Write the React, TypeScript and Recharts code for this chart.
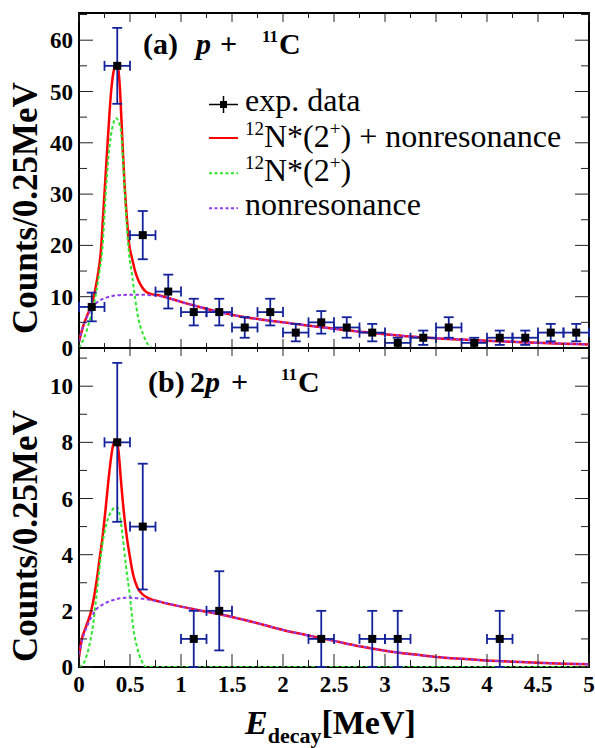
import React from "react";
import {
  ComposedChart,
  Line,
  Scatter,
  ErrorBar,
  XAxis,
  YAxis,
  ReferenceArea,
} from "recharts";

// ---- data ----

const X_TICKS = [0, 0.25, 0.5, 0.75, 1, 1.25, 1.5, 1.75, 2, 2.25, 2.5, 2.75, 3, 3.25, 3.5, 3.75, 4, 4.25, 4.5, 4.75, 5];
const Y_TICKS_A = [0, 5, 10, 15, 20, 25, 30, 35, 40, 45, 50, 55, 60, 65];
const Y_TICKS_B = [0, 1, 2, 3, 4, 5, 6, 7, 8, 9, 10, 11];

// (a) p + 11C
const BINS_A = [0.125, 0.375, 0.625, 0.875, 1.125, 1.375, 1.625, 1.875, 2.125, 2.375, 2.625, 2.875, 3.125, 3.375, 3.625, 3.875, 4.125, 4.375, 4.625, 4.875];
const COUNTS_A = [8, 55, 22, 11, 7, 7, 4, 7, 3, 5, 4, 3, 1, 2, 4, 1, 2, 2, 3, 3];
const ERR_A = [2.8, 7.4, 4.7, 3.3, 2.6, 2.6, 2.0, 2.6, 1.7, 2.2, 2.0, 1.7, 1.0, 1.4, 2.0, 1.0, 1.4, 1.4, 1.7, 1.7];

// (b) 2p + 11C
const BINS_B = [0.375, 0.625, 1.125, 1.375, 2.375, 2.875, 3.125, 4.125];
const COUNTS_B = [8, 5, 1, 2, 1, 1, 1, 1];
const ERR_B = [2.83, 2.24, 1.0, 1.41, 1.0, 1.0, 1.0, 1.0];

const BIN_HALF = 0.125;

const RED_A: [number, number][] = [
  [0, 1.2], [0.04, 4.2], [0.09, 6.8], [0.125, 8.4], [0.155, 11], [0.185, 14.3], [0.215, 19],
  [0.24, 27], [0.265, 35], [0.29, 43], [0.315, 50], [0.34, 54], [0.36, 55.2], [0.38, 54.8],
  [0.4, 51], [0.415, 45], [0.43, 38.5], [0.445, 32.5], [0.465, 26.5], [0.49, 20.5], [0.52, 17.5],
  [0.55, 15], [0.58, 13.3], [0.62, 11.8], [0.66, 10.9], [0.71, 10.5], [0.8, 10.2], [0.9, 9.6],
  [1.0, 9.0], [1.2, 7.9], [1.4, 6.9], [1.6, 6.1], [1.8, 5.5], [2.0, 5.0], [2.2, 4.5], [2.4, 4.0],
  [2.6, 3.5], [2.8, 3.1], [3.0, 2.7], [3.25, 2.25], [3.5, 1.9], [3.75, 1.65], [4.0, 1.4],
  [4.25, 1.2], [4.5, 1.0], [4.75, 0.85], [5.0, 0.7],
];
const GREEN_A: [number, number][] = [
  [0, 0], [0.05, 2.0], [0.1, 5.0], [0.14, 8], [0.17, 11], [0.2, 14.8], [0.23, 19.5], [0.26, 29.5],
  [0.29, 37.5], [0.31, 41], [0.34, 44], [0.365, 44.8], [0.39, 44], [0.41, 42.5], [0.43, 37],
  [0.45, 30], [0.47, 23.5], [0.49, 18.5], [0.52, 14.3], [0.55, 9.7], [0.58, 5.9], [0.63, 2.6],
  [0.68, 0.6], [0.73, 0], [5, 0],
];
const PURPLE_A: [number, number][] = [
  [0, 1.2], [0.03, 3.6], [0.06, 5.2], [0.1, 6.9], [0.125, 7.8], [0.19, 9.1], [0.28, 9.9],
  [0.4, 10.3], [0.55, 10.4], [0.7, 10.3], [0.8, 10.1], [0.9, 9.6], [1.0, 9.0], [1.2, 7.9],
  [1.4, 6.9], [1.6, 6.1], [1.8, 5.5], [2.0, 5.0], [2.2, 4.5], [2.4, 4.0], [2.6, 3.5], [2.8, 3.1],
  [3.0, 2.7], [3.25, 2.25], [3.5, 1.9], [3.75, 1.65], [4.0, 1.4], [4.25, 1.2], [4.5, 1.0],
  [4.75, 0.85], [5.0, 0.7],
];

const RED_B: [number, number][] = [
  [0, 0.35], [0.025, 0.95], [0.07, 1.45], [0.12, 2.0], [0.17, 3.0], [0.2, 3.8], [0.23, 4.6],
  [0.26, 5.6], [0.29, 6.7], [0.32, 7.6], [0.35, 8.1], [0.37, 8.1], [0.39, 7.6], [0.41, 6.7],
  [0.44, 5.5], [0.47, 4.6], [0.5, 3.9], [0.53, 3.3], [0.57, 2.85], [0.62, 2.6], [0.68, 2.45],
  [0.8, 2.32], [1.0, 2.15], [1.25, 1.97], [1.5, 1.78], [1.75, 1.56], [2.0, 1.32], [2.25, 1.12],
  [2.5, 0.93], [2.75, 0.74], [3.0, 0.58], [3.25, 0.46], [3.5, 0.36], [3.75, 0.29], [4.0, 0.23],
  [4.25, 0.19], [4.5, 0.15], [4.75, 0.12], [5.0, 0.1],
];
const GREEN_B: [number, number][] = [
  [0, 0], [0.04, 0.1], [0.09, 0.6], [0.14, 1.55], [0.17, 2.5], [0.2, 3.5], [0.235, 4.5],
  [0.27, 5.1], [0.31, 5.5], [0.34, 5.65], [0.37, 5.7], [0.4, 5.4], [0.43, 4.6], [0.46, 3.6],
  [0.5, 2.5], [0.53, 1.45], [0.57, 0.7], [0.61, 0.25], [0.66, 0], [5, 0],
];
const PURPLE_B: [number, number][] = [
  [0, 0.45], [0.04, 1.07], [0.09, 1.54], [0.15, 1.96], [0.25, 2.26], [0.35, 2.4], [0.48, 2.47],
  [0.64, 2.42], [0.8, 2.32], [1.0, 2.15], [1.25, 1.97], [1.5, 1.78], [1.75, 1.56], [2.0, 1.32],
  [2.25, 1.12], [2.5, 0.93], [2.75, 0.74], [3.0, 0.58], [3.25, 0.46], [3.5, 0.36], [3.75, 0.29],
  [4.0, 0.23], [4.25, 0.19], [4.5, 0.15], [4.75, 0.12], [5.0, 0.1],
];

// ---- styling / layout ----

const FONT = '"Liberation Serif", "Times New Roman", serif';
const RED = "#ff0000";
const GREEN = "#2ee62e";
const PURPLE = "#8f3cf0";
const BLUE = "#14239b";

const WIDTH = 595;
const PLOT_LEFT = 79;
const PLOT_RIGHT = 589;

const YMAX_A = 65.3;
const YMAX_B = 11.36;

const toPoints = (bins: number[], counts: number[], errs: number[]) =>
  bins.map((x, i) => ({ x, y: counts[i], ey: errs[i], ex: BIN_HALF }));
const toLine = (pts: [number, number][]) => pts.map(([x, y]) => ({ x, y }));

const isMajor = (v: number, step: number) => Math.abs(v / step - Math.round(v / step)) < 1e-6;

const Square = (p: any) => <rect x={p.cx - 4} y={p.cy - 4} width={8} height={8} fill="#000" />;

function makeYTick(majorStep: number) {
  return (p: any) => {
    const v = p.payload.value;
    const major = isMajor(v, majorStep);
    const len = major ? 14 : 8;
    return (
      <g>
        <line x1={PLOT_LEFT} x2={PLOT_LEFT + len} y1={p.y} y2={p.y} stroke="#222" strokeWidth={1} />
        <line x1={PLOT_RIGHT - len} x2={PLOT_RIGHT} y1={p.y} y2={p.y} stroke="#222" strokeWidth={1} />
        {major && (
          <text x={PLOT_LEFT - 6} y={p.y} dy="0.35em" textAnchor="end" fontFamily={FONT} fontWeight="bold" fontSize={23} fill="#000">
            {v}
          </text>
        )}
      </g>
    );
  };
}

function makeXTick(top: number, bottom: number, lenBottom: number[], lenTop: number[], labels: boolean) {
  return (p: any) => {
    const v = p.payload.value;
    const major = isMajor(v, 0.5);
    const lb = major ? lenBottom[0] : lenBottom[1];
    const lt = major ? lenTop[0] : lenTop[1];
    return (
      <g>
        <line x1={p.x} x2={p.x} y1={bottom} y2={bottom - lb} stroke="#222" strokeWidth={1} />
        <line x1={p.x} x2={p.x} y1={top} y2={top + lt} stroke="#222" strokeWidth={1} />
        {labels && major && (
          <text x={p.x} y={bottom + 17} dy="0.35em" textAnchor="middle" fontFamily={FONT} fontWeight="bold" fontSize={23} fill="#000">
            {v}
          </text>
        )}
      </g>
    );
  };
}

function Panel(props: {
  points: { x: number; y: number; ex: number; ey: number }[];
  red: [number, number][];
  green: [number, number][];
  purple: [number, number][];
  ymax: number;
  yTicks: number[];
  yMajor: number;
  height: number;
  marginTop: number;
  xAxisHeight: number;
  xLenBottom: number[];
  xLenTop: number[];
  labels: boolean;
}) {
  const plotTop = props.marginTop;
  const plotBottom = props.height - props.xAxisHeight;
  return (
    <ComposedChart
      width={WIDTH}
      height={props.height}
      margin={{ top: props.marginTop, right: WIDTH - PLOT_RIGHT, left: 0, bottom: 0 }}
    >
      <XAxis
        type="number"
        dataKey="x"
        domain={[0, 5]}
        ticks={X_TICKS}
        interval={0}
        height={props.xAxisHeight}
        axisLine={false}
        tickLine={false}
        tickSize={0}
        tick={makeXTick(plotTop, plotBottom, props.xLenBottom, props.xLenTop, props.labels)}
        allowDataOverflow
      />
      <YAxis
        type="number"
        dataKey="y"
        domain={[0, props.ymax]}
        ticks={props.yTicks}
        interval={0}
        width={PLOT_LEFT}
        axisLine={false}
        tickLine={false}
        tickSize={0}
        tick={makeYTick(props.yMajor)}
        allowDataOverflow
      />
      <Line data={toLine(props.red)} dataKey="y" type="monotone" stroke={RED} strokeWidth={2.5} dot={false} isAnimationActive={false} />
      <Line data={toLine(props.green)} dataKey="y" type="monotone" stroke={GREEN} strokeWidth={2} strokeDasharray="3.5 2.5" dot={false} isAnimationActive={false} />
      <Line data={toLine(props.purple)} dataKey="y" type="monotone" stroke={PURPLE} strokeWidth={2} strokeDasharray="3.5 2.5" dot={false} isAnimationActive={false} />
      <Scatter data={props.points} dataKey="y" shape={Square} isAnimationActive={false}>
        <ErrorBar dataKey="ey" direction="y" width={5} stroke={BLUE} strokeWidth={1.8} />
        <ErrorBar dataKey="ex" direction="x" width={5} stroke={BLUE} strokeWidth={1.8} />
      </Scatter>
      <ReferenceArea x1={0} x2={5} y1={0} y2={props.ymax} fill="none" fillOpacity={0} stroke="#000" strokeWidth={2} />
    </ComposedChart>
  );
}

function Overlay() {
  const bold = { fontFamily: FONT, fontWeight: "bold" as const, fill: "#000" };
  const reg = { fontFamily: FONT, fill: "#000" };
  return (
    <svg width={WIDTH} height={748} style={{ position: "absolute", left: 0, top: 0, pointerEvents: "none" }}>
      {/* y titles */}
      <text transform="translate(37,208) rotate(-90)" textAnchor="middle" fontSize={35} {...bold}>
        Counts/0.25MeV
      </text>
      <text transform="translate(37,536) rotate(-90)" textAnchor="middle" fontSize={35} {...bold}>
        Counts/0.25MeV
      </text>
      {/* x title */}
      <text y={734} {...bold}>
        <tspan x={245} fontSize={34} fontStyle="italic">E</tspan>
        <tspan fontSize={22} dy={9}>decay</tspan>
        <tspan fontSize={34} dy={-9}>[MeV]</tspan>
      </text>
      {/* panel labels */}
      <text y={54} fontSize={30} {...bold}>
        <tspan x={143}>(a)</tspan>
        <tspan x={196} fontStyle="italic">p</tspan>
        <tspan x={220}>+</tspan>
        <tspan x={262} fontSize={17} dy={-12}>11</tspan>
        <tspan x={279} dy={12}>C</tspan>
      </text>
      <text y={392} fontSize={30} {...bold}>
        <tspan x={148}>(b)</tspan>
        <tspan x={190}>2</tspan>
        <tspan fontStyle="italic">p</tspan>
        <tspan x={231}>+</tspan>
        <tspan x={281} fontSize={17} dy={-12}>11</tspan>
        <tspan x={298} dy={12}>C</tspan>
      </text>
      {/* legend */}
      <line x1={209} x2={238} y1={104.5} y2={104.5} stroke="#000" strokeWidth={1.5} />
      <line x1={223.5} x2={223.5} y1={96} y2={113} stroke="#000" strokeWidth={1.5} />
      <rect x={220} y={101} width={7} height={7} fill="#000" />
      <text x={245} y={111} fontSize={32} {...reg}>exp. data</text>

      <line x1={209} x2={238} y1={138} y2={138} stroke={RED} strokeWidth={2} />
      <text x={245} y={146.5} fontSize={32} {...reg}>
        <tspan fontSize={19} dy={-12}>12</tspan>
        <tspan dy={12}>N*(2</tspan>
        <tspan fontSize={19} dy={-12}>+</tspan>
        <tspan dy={12}>) + nonresonance</tspan>
      </text>

      <line x1={209} x2={238} y1={173.3} y2={173.3} stroke={GREEN} strokeWidth={2} strokeDasharray="3 2.5" />
      <text x={245} y={180.5} fontSize={32} {...reg}>
        <tspan fontSize={19} dy={-12}>12</tspan>
        <tspan dy={12}>N*(2</tspan>
        <tspan fontSize={19} dy={-12}>+</tspan>
        <tspan dy={12}>)</tspan>
      </text>

      <line x1={209} x2={238} y1={208.3} y2={208.3} stroke={PURPLE} strokeWidth={2} strokeDasharray="3 2.5" />
      <text x={245} y={215} fontSize={32} {...reg}>nonresonance</text>
    </svg>
  );
}

export default function App() {
  const pointsA = toPoints(BINS_A, COUNTS_A, ERR_A);
  const pointsB = toPoints(BINS_B, COUNTS_B, ERR_B);
  return (
    <div style={{ position: "absolute", left: 0, top: 0, width: WIDTH, height: 748, background: "#fff", overflow: "hidden" }}>
      <div style={{ position: "absolute", left: 0, top: 0 }}>
        <Panel
          points={pointsA}
          red={RED_A}
          green={GREEN_A}
          purple={PURPLE_A}
          ymax={YMAX_A}
          yTicks={Y_TICKS_A}
          yMajor={10}
          height={362}
          marginTop={13}
          xAxisHeight={14}
          xLenBottom={[9, 5]}
          xLenTop={[9, 5]}
          labels={false}
        />
      </div>
      <div style={{ position: "absolute", left: 0, top: 300 }}>
        <Panel
          points={pointsB}
          red={RED_B}
          green={GREEN_B}
          purple={PURPLE_B}
          ymax={YMAX_B}
          yTicks={Y_TICKS_B}
          yMajor={2}
          height={448}
          marginTop={48}
          xAxisHeight={81}
          xLenBottom={[13, 7]}
          xLenTop={[8, 4]}
          labels={true}
        />
      </div>
      <Overlay />
    </div>
  );
}
